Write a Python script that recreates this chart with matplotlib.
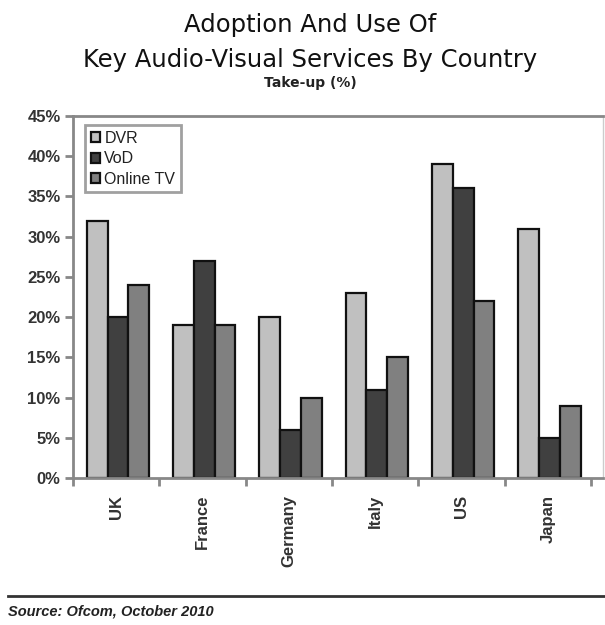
import matplotlib.pyplot as plt
from matplotlib.ticker import FixedLocator, PercentFormatter
import numpy as np

countries = ['UK', 'France', 'Germany', 'Italy', 'US', 'Japan']
dvr = [32, 19, 20, 23, 39, 31]
vod = [20, 27, 6, 11, 36, 5]
online_tv = [24, 19, 10, 15, 22, 9]

series = ['DVR', 'VoD', 'Online TV']
colors = ['#c0c0c0', '#404040', '#808080']

fig = plt.figure(figsize=(6.05, 6.25), dpi=100)
ax = fig.add_axes([73 / 605, 1 - 478 / 625, (603 - 73) / 605, (478 - 116) / 625])

x = np.arange(len(countries))
w = 0.24
for i, (vals, name, col) in enumerate(zip([dvr, vod, online_tv], series, colors)):
    ax.bar(x + (i - 1) * w + 0.02, vals, width=w, color=col, edgecolor='#111111',
           linewidth=1.6, label=name)

ax.set_ylim(0, 45)
ax.set_xlim(-0.5, 5.64)
ax.set_yticks(np.arange(0, 46, 5))
ax.yaxis.set_major_formatter(PercentFormatter(decimals=0))

ax.set_xticks(x)
ax.set_xticklabels(countries, rotation=90, fontsize=12, family='Liberation Sans',
                   fontweight='bold', color='#333333')
ax.xaxis.set_minor_locator(FixedLocator(np.arange(-0.5, 6, 1)))
ax.tick_params(axis='x', which='major', length=0, pad=12)
ax.tick_params(axis='x', which='minor', length=6, width=2, color='#888888')
ax.tick_params(axis='y', length=6, width=2, color='#888888', labelsize=12,
               labelcolor='#333333', pad=3)
for lab in ax.get_yticklabels():
    lab.set_family('Liberation Sans')
    lab.set_fontweight('bold')

for side in ['left', 'bottom', 'top']:
    ax.spines[side].set_color('#888888')
    ax.spines[side].set_linewidth(2)
ax.spines['right'].set_color('#cccccc')
ax.spines['right'].set_linewidth(1)

leg = ax.legend(loc='upper left', bbox_to_anchor=(0.023, 0.975),
                prop={'family': 'Liberation Sans', 'size': 11.5},
                handlelength=0.6, handleheight=0.6, handletextpad=0.25,
                labelspacing=0.35, borderpad=0.35, fancybox=False,
                borderaxespad=0)
leg.get_frame().set_edgecolor('#888888')
leg.get_frame().set_linewidth(2)
for t in leg.get_texts():
    t.set_color('#222222')

# titles
fig.text(0.513, 1 - 32 / 625, 'Adoption And Use Of', ha='center', va='baseline',
         fontsize=17.5, family='DejaVu Sans', color='#111111')
fig.text(0.513, 1 - 67 / 625, 'Key Audio-Visual Services By Country', ha='center',
         va='baseline', fontsize=17.5, family='DejaVu Sans', color='#111111')
fig.text(0.513, 1 - 87 / 625, 'Take-up (%)', ha='center', va='baseline',
         fontsize=10, fontweight='bold', family='DejaVu Sans', color='#222222')

# footer
fig.add_artist(plt.Line2D([8 / 605, 1], [1 - 596 / 625] * 2, color='#333333',
                          linewidth=2))
fig.text(8 / 605, 1 - 611 / 625, 'Source: Ofcom, October 2010', ha='left',
         va='center', fontsize=10.5, style='italic', fontweight='bold',
         family='Liberation Sans', color='#222222')

plt.savefig('out.png', dpi=100)
plt.close()
